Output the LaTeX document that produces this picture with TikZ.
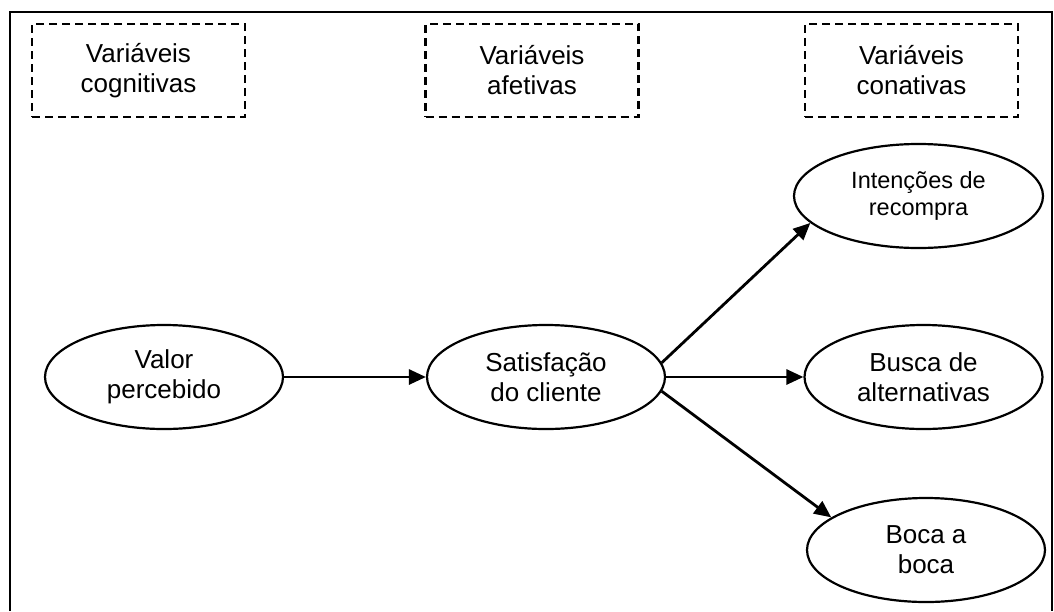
\documentclass[tikz,border=0pt]{standalone}
\usepackage{fontspec}
\setmainfont{Liberation Sans}
\usetikzlibrary{shapes.geometric,arrows.meta}

\tikzset{
  frameline/.style={line width=2.6pt},
  groupbox/.style={draw, line width=2.2pt, dash pattern=on 8pt off 5pt,
    minimum width=213pt, minimum height=93pt, inner sep=0pt, align=center,
    font=\fontsize{26}{30}\selectfont},
  var/.style={draw, ellipse, line width=2.2pt, minimum width=238pt,
    minimum height=104pt, inner sep=0pt, align=center,
    font=\fontsize{26}{30}\selectfont},
  arr/.style={line width=2.8pt, -{Triangle[length=17pt,width=15pt]}}
}

\begin{document}
\begin{tikzpicture}[x=1pt,y=-1pt]
  \useasboundingbox (0,0) rectangle (1054,611);
  \fill[white] (0,0) rectangle (1054,611);

  % outer frame, open at the bottom
  \draw[frameline] (10,611) -- (10,12) -- (1052,12) -- (1052,611);

  % group headings
  \node[groupbox] (cog) at (138.5,70.5) {Variáveis\\cognitivas};
  \node[groupbox] (afe) at (532,70.5)   {Variáveis\\afetivas};
  \node[groupbox] (con) at (911.5,70.5) {Variáveis\\conativas};

  % constructs
  \node[var] (valor) at (164,377) {Valor\\percebido};
  \node[var] (sat)   at (546,377) {Satisfação\\do cliente};
  \node[var, minimum width=249pt, font=\fontsize{23.5}{27}\selectfont]
        (int)   at (918.5,196) {Intenções de\\recompra};
  \node[var] (busca) at (923.5,377) {Busca de\\alternativas};
  \node[var] (boca)  at (926,550) {Boca a\\boca};

  % relations
  \draw[arr] (valor.east) -- (sat.west);
  \draw[arr] (sat.east) -- (busca.west);
  \draw[arr] (sat.7) -- (int.194);
  \draw[arr] (sat.-7) -- (boca.161);
\end{tikzpicture}
\end{document}
